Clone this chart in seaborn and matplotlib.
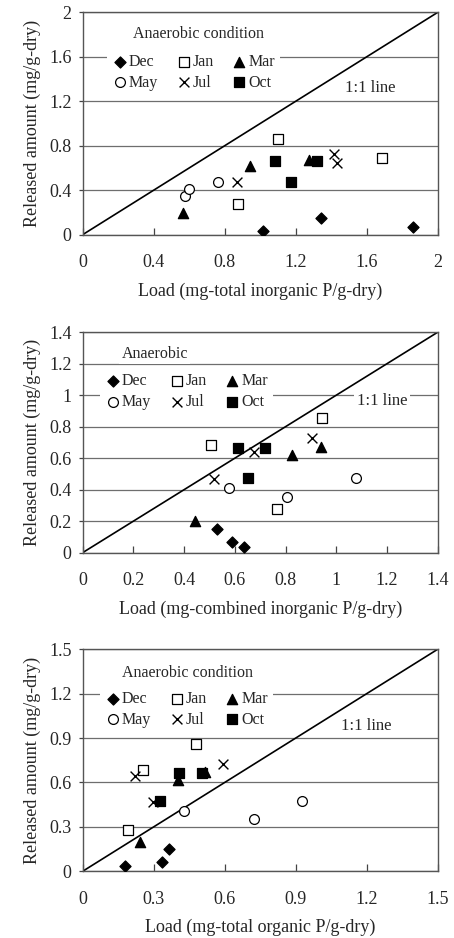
import numpy as np
import pandas as pd
import matplotlib
matplotlib.use("Agg")
import matplotlib.pyplot as plt
import seaborn as sns

# month of each point (3 samples per month)
months = ["Dec", "Jan", "Mar", "May", "Jul", "Oct"]
month_col = [m for m in months for _ in range(3)]

# released amount (mg/g-dry), same for all three panels
released = [0.036, 0.153, 0.066,
            0.858, 0.279, 0.687,
            0.198, 0.618, 0.669,
            0.351, 0.408, 0.477,
            0.471, 0.726, 0.642,
            0.663, 0.474, 0.663]

# loads (mg/g-dry)
load_total_inorg = [1.018, 1.341, 1.863,
                    1.099, 0.873, 1.688,
                    0.563, 0.943, 1.277,
                    0.578, 0.597, 0.764,
                    0.871, 1.418, 1.435,
                    1.082, 1.172, 1.320]
load_comb_inorg = [0.636, 0.528, 0.590,
                   0.943, 0.765, 0.506,
                   0.443, 0.824, 0.940,
                   0.805, 0.576, 1.078,
                   0.518, 0.903, 0.677,
                   0.611, 0.651, 0.720]
load_total_org = [0.177, 0.363, 0.334,
                  0.480, 0.192, 0.255,
                  0.242, 0.404, 0.517,
                  0.725, 0.430, 0.927,
                  0.299, 0.592, 0.220,
                  0.407, 0.325, 0.506]

xlabels = ["Load (mg-total inorganic P/g-dry)",
           "Load (mg-combined inorganic P/g-dry)",
           "Load (mg-total organic P/g-dry)"]
titles = ["Anaerobic condition", "Anaerobic", "Anaerobic condition"]
limits = [2.0, 1.4, 1.5]
ticks = [np.arange(0, 2.01, 0.4), np.arange(0, 1.41, 0.2), np.arange(0, 1.51, 0.3)]

# marker, face colour, size per month
styles = {"Dec": ("D", "black", 32),
          "Jan": ("s", "white", 52),
          "Mar": ("^", "black", 55),
          "May": ("o", "white", 50),
          "Jul": ("x", "black", 50),
          "Oct": ("s", "black", 50)}

sns.set_style("white")
plt.rcParams["font.family"] = ["Liberation Serif", "DejaVu Serif"]

fig = plt.figure(figsize=(4.54, 9.38), dpi=100)
rects = [[0.182, 0.7498, 0.782, 0.237],
         [0.182, 0.4108, 0.782, 0.235],
         [0.182, 0.0711, 0.782, 0.2367]]
title_pos = [(0.325, 0.901), (0.203, 0.900), (0.295, 0.892)]
line_pos = [(0.809, 0.66), (0.843, 0.688), (0.798, 0.654)]
leg_anchor = [(0.07, 0.835), (0.05, 0.835), (0.05, 0.835)]

for i, loads in enumerate([load_total_inorg, load_comb_inorg, load_total_org]):
    ax = fig.add_axes(rects[i])
    df = pd.DataFrame({"load": loads, "released": released, "month": month_col})
    lim = limits[i]
    ax.set_xlim(0, lim)
    ax.set_ylim(0, lim)
    ax.set_xticks(ticks[i])
    ax.set_yticks(ticks[i])
    fmt = lambda v: "0" if v == 0 else ("%g" % round(v, 2))
    ax.set_xticklabels([fmt(v) for v in ticks[i]])
    ax.set_yticklabels([fmt(v) for v in ticks[i]])
    ax.yaxis.grid(True, color="#6e6e6e", lw=0.9)
    ax.set_axisbelow(True)
    for sp in ax.spines.values():
        sp.set_color("#555555")
        sp.set_linewidth(1.0)
    ax.tick_params(axis="x", direction="in", length=5, width=0.9, color="#444444",
                   pad=14, labelsize=13, bottom=True)
    ax.tick_params(axis="y", direction="out", length=3, width=0.9, color="#444444",
                   pad=5, labelsize=13, left=True)

    ax.axline((0, 0), slope=1, color="black", lw=1.2, zorder=2)

    for m in months:
        mk, fc, s = styles[m]
        sub = df[df["month"] == m]
        if mk == "x":
            sns.scatterplot(data=sub, x="load", y="released", marker="x", color="black",
                            s=s, linewidth=1.0, ax=ax, label=m, zorder=3)
        else:
            sns.scatterplot(data=sub, x="load", y="released", marker=mk, color=fc,
                            edgecolor="black", s=s, linewidth=0.9, ax=ax, label=m, zorder=3)

    handles, labels = ax.get_legend_handles_labels()
    order = [0, 3, 1, 4, 2, 5]
    leg = ax.legend([handles[k] for k in order], [labels[k] for k in order], ncol=3,
                    loc="upper left", bbox_to_anchor=leg_anchor[i], frameon=True,
                    fontsize=11.5, handletextpad=0.05, columnspacing=1.1,
                    handlelength=1.0, labelspacing=0.3, borderpad=0.3,
                    borderaxespad=0, markerscale=1.0)
    leg.get_frame().set_facecolor("white")
    leg.get_frame().set_edgecolor("none")
    leg.get_frame().set_alpha(1)

    ax.text(*title_pos[i], titles[i], transform=ax.transAxes, ha="center", va="center",
            fontsize=11.5, bbox=dict(facecolor="white", edgecolor="none", pad=1.5), zorder=4)
    ax.text(*line_pos[i], "1:1 line", transform=ax.transAxes, ha="center", va="center",
            fontsize=12, bbox=dict(facecolor="white", edgecolor="none", pad=2), zorder=4)

    ax.set_xlabel(xlabels[i], fontsize=13, labelpad=8)
    ax.set_ylabel("Released amount (mg/g-dry)", fontsize=13, labelpad=6)

fig.savefig("out.png", dpi=100)
